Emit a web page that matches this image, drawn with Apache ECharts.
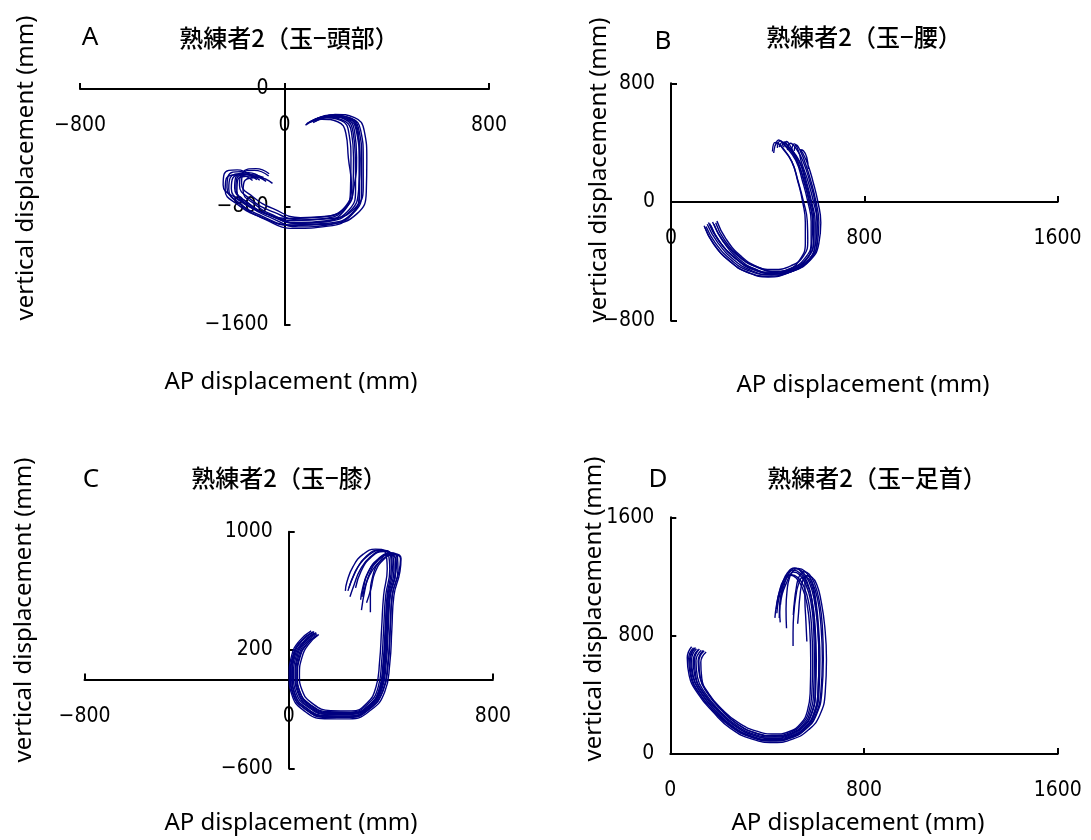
<!DOCTYPE html>
<html>
<head>
<meta charset="utf-8">
<script src="https://cdn.jsdelivr.net/npm/echarts@6/dist/echarts.min.js"></script>
<style>
  html, body { margin: 0; padding: 0; background: #fff; }
  #chart { width: 1091px; height: 840px; }
</style>
</head>
<body>
<div id="chart"></div>
<script>
// Ball-to-segment trajectories, expert subject 2: [AP (mm), vertical (mm)]
const headTrials = [
  [[-117,-600],[-170,-560],[-220,-588],[-225,-668],[-180,-768],[-90,-860],[28,-922],[170,-910],[270,-838],[302,-690],[302,-470],[292,-285],[258,-198],[186,-178],[110,-220]],
  [[-97,-618],[-150,-578],[-202,-603],[-208,-676],[-162,-768],[-72,-846],[40,-892],[150,-880],[238,-810],[268,-672],[270,-466],[262,-292],[226,-210],[160,-192],[90,-232]],
  [[-87,-608],[-140,-568],[-190,-595],[-195,-670],[-150,-765],[-62,-852],[45,-905],[165,-892],[252,-820],[278,-680],[277,-470],[268,-290],[236,-205],[170,-185],[100,-225]],
  [[-72,-626],[-128,-590],[-182,-612],[-186,-690],[-140,-790],[-50,-875],[55,-935],[175,-920],[262,-846],[294,-700],[294,-478],[284,-282],[250,-196],[180,-176],[108,-218]],
  [[-62,-590],[-118,-552],[-170,-578],[-176,-652],[-132,-748],[-42,-835],[65,-888],[184,-878],[276,-806],[308,-668],[308,-462],[298,-280],[262,-200],[192,-182],[120,-220]],
  [[-47,-640],[-102,-600],[-155,-620],[-162,-690],[-118,-780],[-38,-860],[55,-912],[150,-902],[230,-832],[258,-690],[260,-480],[252,-300],[222,-214],[156,-196],[86,-236]],
  [[-132,-585],[-185,-548],[-236,-576],[-240,-650],[-190,-740],[-98,-826],[27,-878],[148,-868],[240,-798],[272,-662],[282,-462],[274,-286],[242,-202],[174,-182],[106,-222]],
  [[-82,-600],[-136,-580],[-186,-604],[-190,-676],[-144,-770],[-56,-858],[50,-910],[170,-898],[258,-826],[290,-686],[296,-472],[288,-288],[254,-204],[184,-190],[112,-228]],
  [[-108,-615],[-162,-575],[-212,-600],[-218,-678],[-172,-784],[-80,-880],[38,-945],[170,-930],[262,-855],[292,-705],[292,-480],[282,-292],[248,-202],[178,-182],[104,-222]],
  [[-60,-575],[-112,-540],[-162,-565],[-168,-640],[-124,-730],[-40,-815],[62,-872],[168,-862],[240,-792],[262,-660],[250,-470],[240,-300],[208,-222],[146,-205],[82,-245]],
  [[-125,-620],[-178,-582],[-228,-608],[-232,-686],[-184,-782],[-92,-868],[30,-925],[180,-915],[284,-845],[320,-696],[322,-474],[312,-284],[274,-194],[198,-172],[126,-214]]
];

const waistTrials = [
  [[150,-150],[192,-270],[262,-392],[333,-462],[416,-492],[502,-464],[566,-396],[596,-280],[597,-140],[582,0],[560,140],[532,275],[490,368],[462,402],[448,370]],
  [[172,-135],[212,-252],[278,-365],[345,-430],[422,-455],[496,-430],[548,-365],[566,-258],[564,-128],[548,5],[526,140],[500,272],[462,360],[440,398],[425,330]],
  [[137,-160],[175,-280],[242,-398],[312,-470],[398,-500],[490,-474],[562,-404],[598,-285],[606,-140],[596,0],[575,135],[548,268],[520,355],[494,396],[482,350]],
  [[185,-140],[222,-258],[288,-372],[356,-440],[432,-467],[510,-440],[566,-373],[590,-262],[588,-130],[572,0],[550,138],[522,275],[488,365],[470,404],[458,372]],
  [[160,-145],[200,-265],[268,-382],[338,-452],[420,-482],[508,-456],[576,-392],[612,-278],[620,-140],[608,0],[588,135],[566,255],[545,330],[535,352],[548,345],[562,300],[568,222]],
  [[145,-165],[186,-282],[252,-395],[320,-462],[400,-488],[478,-462],[532,-392],[556,-275],[556,-138],[545,0],[525,138],[500,272],[462,365],[432,402],[420,340]],
  [[165,-158],[205,-275],[272,-388],[340,-455],[418,-480],[498,-454],[560,-386],[590,-272],[592,-135],[578,2],[556,140],[528,280],[480,372],[452,412],[440,365]],
  [[190,-128],[228,-250],[292,-368],[362,-440],[440,-470],[520,-444],[578,-378],[604,-268],[604,-130],[590,0],[568,135],[540,268],[528,340],[510,392],[500,360]],
  [[155,-138],[196,-258],[266,-376],[336,-446],[414,-473],[494,-448],[554,-380],[580,-268],[580,-132],[566,4],[544,142],[516,282],[472,378],[446,418],[432,380]],
  [[178,-150],[216,-268],[282,-385],[352,-455],[430,-484],[512,-460],[574,-392],[606,-276],[612,-138],[600,0],[580,136],[554,270],[535,345],[518,384],[510,345]],
  [[140,-170],[180,-290],[248,-405],[318,-475],[402,-505],[486,-478],[552,-406],[582,-286],[586,-145],[574,-2],[552,138],[524,276],[496,370],[478,408],[466,368]]
];

const kneeTrials = [
  [[104,313],[58,250],[29,159],[19,24],[29,-89],[71,-180],[150,-236],[241,-236],[313,-180],[358,-66],[374,114],[382,340],[391,566],[412,735],[408,838],[372,866],[322,826],[284,735],[262,620]],
  [[96,322],[48,258],[18,162],[8,20],[18,-98],[62,-196],[145,-256],[240,-255],[318,-198],[368,-78],[388,110],[397,340],[405,570],[428,740],[426,832],[398,858],[360,808],[330,705],[320,560],[320,455]],
  [[112,300],[70,240],[42,152],[32,25],[42,-78],[82,-165],[158,-218],[244,-220],[310,-165],[350,-55],[364,118],[372,342],[380,568],[396,742],[390,852],[356,876],[304,834],[264,738],[232,600]],
  [[88,330],[42,262],[12,165],[2,20],[12,-100],[56,-205],[140,-265],[238,-266],[322,-206],[376,-84],[396,108],[404,338],[412,565],[436,732],[440,820],[414,850],[372,812],[338,724],[322,612],[305,520]],
  [[108,318],[63,252],[34,160],[25,22],[35,-86],[76,-178],[154,-232],[246,-232],[318,-176],[362,-62],[378,116],[386,338],[396,562],[418,726],[418,822],[392,846],[350,806],[316,714],[298,602],[285,470]],
  [[118,305],[78,238],[52,150],[42,28],[52,-70],[90,-158],[164,-210],[246,-212],[306,-160],[342,-50],[356,120],[364,345],[372,570],[386,748],[378,862],[340,882],[292,848],[252,764],[228,660],[222,600]],
  [[100,316],[54,250],[24,158],[14,22],[24,-94],[66,-190],[148,-248],[242,-247],[316,-190],[364,-72],[382,112],[390,338],[398,566],[420,730],[424,828],[396,854],[350,816],[312,730],[290,622],[282,540]],
  [[110,310],[66,246],[38,156],[28,26],[38,-82],[78,-172],[155,-228],[243,-230],[314,-175],[356,-62],[372,116],[380,340],[388,566],[406,738],[402,846],[370,870],[320,830],[280,742],[256,640],[240,560]],
  [[100,325],[52,262],[22,168],[12,26],[22,-92],[64,-186],[146,-244],[238,-246],[312,-190],[360,-72],[378,110],[386,336],[394,560],[418,724],[418,815],[390,842],[344,800],[308,712],[292,612],[286,560]],
  [[114,302],[72,240],[44,150],[34,22],[44,-84],[84,-172],[160,-224],[248,-224],[316,-170],[356,-58],[370,118],[378,344],[386,574],[402,752],[398,852],[364,874],[312,840],[270,758],[244,660],[236,620]],
  [[92,320],[46,255],[16,160],[6,22],[16,-96],[60,-194],[144,-252],[240,-252],[318,-194],[370,-76],[390,110],[398,338],[406,566],[432,730],[438,815],[412,845],[366,812],[326,734],[302,642],[290,560]]
];

const ankleTrials = [
  [[116,707],[95,635],[102,522],[136,410],[192,297],[261,196],[343,128],[426,106],[495,128],[550,184],[585,275],[600,420],[603,635],[598,860],[585,1041],[564,1153],[536,1221],[509,1243],[481,1209],[461,1130],[447,1041],[440,951]],
  [[100,715],[80,640],[88,520],[124,402],[182,285],[254,180],[340,110],[425,88],[500,110],[560,170],[600,265],[622,420],[628,640],[622,870],[608,1050],[585,1165],[556,1235],[528,1255],[500,1222],[478,1150],[462,1080],[455,1010]],
  [[136,700],[115,628],[122,518],[154,410],[208,302],[274,206],[352,142],[430,124],[494,145],[542,200],[572,285],[585,425],[588,630],[584,850],[572,1020],[552,1130],[525,1195],[500,1212],[476,1178],[460,1100],[452,1010],[450,920]],
  [[88,725],[70,650],[78,530],[114,408],[176,285],[250,172],[338,100],[428,78],[505,100],[572,165],[618,265],[640,420],[645,640],[638,860],[622,1040],[606,1140],[585,1195],[562,1205],[545,1160],[535,1060],[530,960],[526,880]],
  [[120,710],[100,636],[106,520],[140,408],[198,296],[266,193],[348,124],[432,104],[502,126],[558,184],[594,276],[610,422],[614,640],[608,860],[594,1045],[574,1160],[546,1232],[518,1255],[490,1220],[470,1140],[456,1050],[452,960],[454,890]],
  [[148,690],[126,620],[130,512],[160,405],[212,305],[278,215],[356,155],[432,135],[492,152],[538,205],[566,290],[578,430],[580,630],[576,845],[565,1010],[546,1120],[520,1190],[494,1210],[468,1175],[450,1095],[438,1000],[432,920]],
  [[108,712],[88,640],[95,525],[130,410],[188,292],[258,188],[342,118],[428,96],[498,118],[555,178],[592,272],[610,420],[614,640],[610,860],[598,1040],[584,1140],[566,1190],[548,1195],[530,1150],[518,1060],[510,950],[507,820],[507,730]],
  [[128,702],[106,630],[112,520],[145,410],[200,300],[268,200],[348,133],[428,114],[496,134],[550,190],[584,280],[598,425],[600,640],[596,862],[584,1045],[566,1160],[540,1232],[512,1258],[484,1225],[462,1150],[446,1065],[438,980]],
  [[96,718],[76,645],[84,526],[120,406],[180,290],[252,184],[338,114],[424,92],[498,114],[558,176],[596,270],[614,420],[618,640],[612,860],[604,1000],[592,1120],[578,1190],[566,1205],[556,1170],[556,1050],[560,900],[564,760]],
  [[140,698],[118,626],[124,516],[156,408],[210,302],[276,204],[354,140],[432,120],[498,140],[548,196],[578,284],[592,424],[595,635],[592,858],[580,1035],[560,1145],[534,1212],[508,1230],[492,1190],[482,1100],[478,980],[480,850]],
  [[104,720],[84,646],[92,528],[128,408],[186,292],[256,186],[340,116],[426,94],[500,114],[562,172],[604,268],[626,420],[632,640],[628,865],[614,1045],[596,1150],[574,1215],[552,1232],[532,1200],[520,1120],[512,1020],[508,940]]
];

// Tick values per panel
const xTicksA = [-800, 0, 800];
const yTicksA = [-1600, -800, 0];
const xTicksB = [0, 800, 1600];
const yTicksB = [-800, 0, 800];
const xTicksC = [-800, 0, 800];
const yTicksC = [-600, 200, 1000];
const xTicksD = [0, 800, 1600];
const yTicksD = [0, 800, 1600];

const panelLetters = ['A', 'B', 'C', 'D'];
const panelTitles = ['熟練者2（玉−頭部）', '熟練者2（玉−腰）', '熟練者2（玉−膝）', '熟練者2（玉−足首）'];
const xAxisTitle = 'AP displacement (mm)';
const yAxisTitle = 'vertical displacement (mm)';

const panels = [
  { letter: panelLetters[0], title: panelTitles[0], trials: headTrials,  xTicks: xTicksA, yTicks: yTicksA },
  { letter: panelLetters[1], title: panelTitles[1], trials: waistTrials, xTicks: xTicksB, yTicks: yTicksB },
  { letter: panelLetters[2], title: panelTitles[2], trials: kneeTrials,  xTicks: xTicksC, yTicks: yTicksC },
  { letter: panelLetters[3], title: panelTitles[3], trials: ankleTrials, xTicks: xTicksD, yTicks: yTicksD }
];

// Page layout (pixels)
const layout = [
  { grid: { left: 80,    top: 89,    width: 409,   height: 236   }, letter: [90, 38],  title: [289, 38],  xName: [291, 382], yName: [26, 168] },
  { grid: { left: 671,   top: 83.3,  width: 386.6, height: 237.4 }, letter: [663, 42], title: [864, 37],  xName: [863, 385], yName: [599, 170] },
  { grid: { left: 84.5,  top: 531.7, width: 408.4, height: 236.6 }, letter: [91, 480], title: [289, 478], xName: [291, 823], yName: [24, 610] },
  { grid: { left: 670.3, top: 517.3, width: 387.4, height: 236.7 }, letter: [658, 480], title: [877, 478], xName: [858, 823], yName: [594, 609] }
];

const NUM_FONT = '"DejaVu Sans Condensed", "Liberation Sans", sans-serif';
const TEXT_FONT = '"Noto Sans", "Open Sans", sans-serif';
const CJK_FONT = '"Noto Sans CJK JP", "Noto Sans CJK SC", sans-serif';
const LINE_COLOR = '#000080';
const minusSign = v => String(v).replace('-', '\u2212');
const axisLineStyle = { color: '#000', width: 2 };

// Axes cross at zero: shift each axis from the grid edge to the zero line of the other axis.
const first = a => a[0];
const last = a => a[a.length - 1];
const zeroShift = (ticks, size) => -size * (0 - first(ticks)) / (last(ticks) - first(ticks));

const option = {
  animation: false,
  grid: layout.map(l => Object.assign({ containLabel: false }, l.grid)),
  xAxis: panels.map((p, i) => ({
    type: 'value',
    gridIndex: i,
    position: 'bottom',
    offset: zeroShift(p.yTicks, layout[i].grid.height),
    min: first(p.xTicks),
    max: last(p.xTicks),
    axisLine: { show: true, onZero: false, lineStyle: axisLineStyle },
    axisTick: { show: true, inside: true, length: 6, customValues: p.xTicks, lineStyle: axisLineStyle },
    axisLabel: { customValues: p.xTicks, margin: 26, fontSize: 21, fontFamily: NUM_FONT, color: '#000', formatter: minusSign },
    splitLine: { show: false }
  })),
  yAxis: panels.map((p, i) => ({
    type: 'value',
    gridIndex: i,
    position: 'left',
    offset: zeroShift(p.xTicks, layout[i].grid.width),
    min: first(p.yTicks),
    max: last(p.yTicks),
    axisLine: { show: true, onZero: false, lineStyle: axisLineStyle },
    axisTick: { show: true, inside: true, length: 6, customValues: p.yTicks, lineStyle: axisLineStyle },
    axisLabel: { customValues: p.yTicks, margin: 16, fontSize: 21, fontFamily: NUM_FONT, color: '#000', formatter: minusSign },
    splitLine: { show: false }
  })),
  series: panels.flatMap((p, i) => p.trials.map((trial, k) => ({
    name: p.letter + (k + 1),
    type: 'line',
    xAxisIndex: i,
    yAxisIndex: i,
    data: trial,
    smooth: 0.5,
    showSymbol: false,
    symbol: 'none',
    silent: true,
    lineStyle: { color: LINE_COLOR, width: 1.4 },
    z: 1
  }))),
  graphic: panels.flatMap((p, i) => {
    const l = layout[i];
    return [
      { type: 'text', x: l.letter[0], y: l.letter[1], style: { text: p.letter, font: '26px ' + TEXT_FONT, fill: '#000', textAlign: 'center', textVerticalAlign: 'middle' } },
      { type: 'text', x: l.title[0], y: l.title[1], style: { text: p.title, font: '500 24px ' + CJK_FONT, fill: '#000', textAlign: 'center', textVerticalAlign: 'middle' } },
      { type: 'text', x: l.xName[0], y: l.xName[1], style: { text: xAxisTitle, font: '24px ' + TEXT_FONT, fill: '#000', textAlign: 'center', textVerticalAlign: 'middle' } },
      { type: 'text', x: l.yName[0], y: l.yName[1], rotation: Math.PI / 2, style: { text: yAxisTitle, font: '24px ' + TEXT_FONT, fill: '#000', textAlign: 'center', textVerticalAlign: 'middle' } }
    ];
  })
};

const chart = echarts.init(document.getElementById('chart'), null, { renderer: 'canvas' });
chart.setOption(option);
</script>
</body>
</html>
